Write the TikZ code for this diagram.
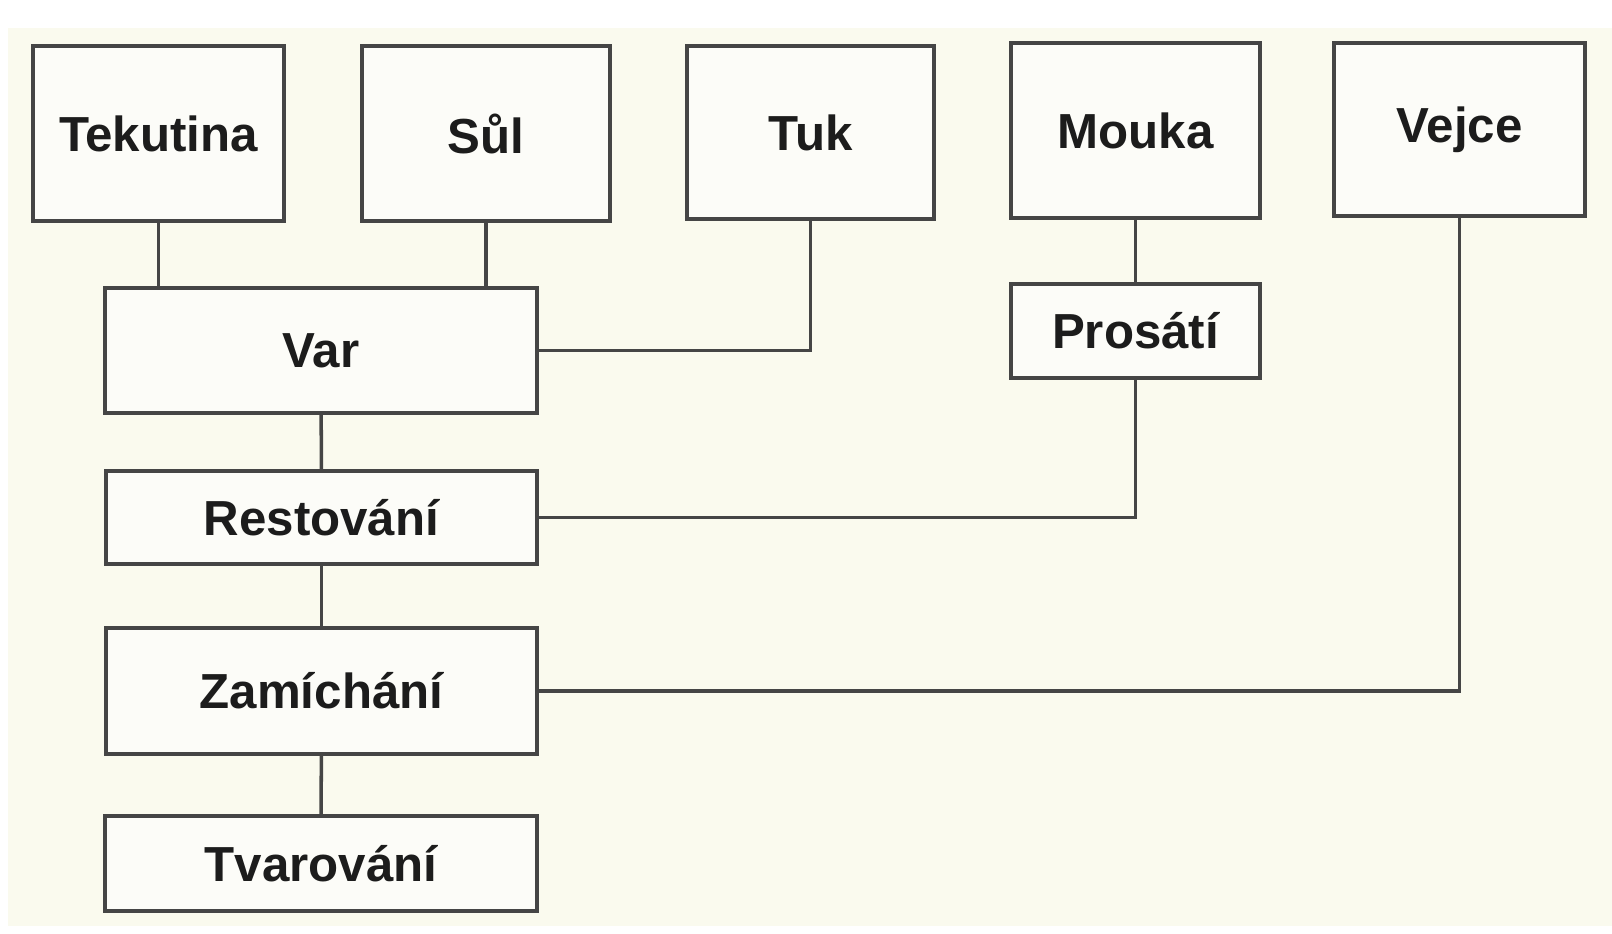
\documentclass[tikz,border=0pt]{standalone}
\usepackage{fontspec}
\setmainfont{Liberation Sans}
\usepackage{xcolor}
\usepackage{tikz}
\definecolor{paper}{HTML}{FAFAEE}
\definecolor{boxfill}{HTML}{FCFCF8}
\definecolor{boxline}{HTML}{454545}
\definecolor{ink}{HTML}{1C1C1C}

\begin{document}
\begin{tikzpicture}[x=0.01cm, y=-0.01cm,
        box/.style={rectangle, draw=boxline, line width=1.1pt, fill=boxfill, inner sep=0pt, text=ink, font=\bfseries\fontsize{14}{16}\selectfont},
        link/.style={draw=boxline, line width=1pt}]
        \useasboundingbox [fill=white] (0, 0) rectangle (1612, 933);
        \fill [paper] (8, 28) rectangle (1612, 926);
        \node (1) at (158.5, 133.5) [box, minimum width=2.51cm, minimum height=1.75cm] {Tekutina};
        \node (2) at (486, 133.5) [box, minimum width=2.48cm, minimum height=1.75cm] {Sůl};
        \node (3) at (810.5, 132.5) [box, minimum width=2.47cm, minimum height=1.73cm] {Tuk};
        \node (4) at (1135.5, 130.5) [box, minimum width=2.49cm, minimum height=1.75cm] {Mouka};
        \node (5) at (1459.5, 129.5) [box, minimum width=2.51cm, minimum height=1.73cm] {Vejce};
        \node (6) at (321, 350.5) [box, minimum width=4.32cm, minimum height=1.25cm] {Var};
        \node (7) at (1135.5, 331) [box, minimum width=2.49cm, minimum height=0.94cm] {Prosátí};
        \node (8) at (321.5, 517.5) [box, minimum width=4.31cm, minimum height=0.93cm] {Restování};
        \node (9) at (321.5, 691) [box, minimum width=4.31cm, minimum height=1.26cm] {Zamíchání};
        \node (10) at (321, 863.5) [box, minimum width=4.32cm, minimum height=0.95cm] {Tvarování};
        \draw [link] (1) -- (1 |- 6.north);
        \draw [link] (2) -- (2 |- 6.north);
        \draw [link] (3) |- (6);
        \draw [link] (4) edge (7);
        \draw [link] (7) |- (8);
        \draw [link] (5) |- (9);
        \draw [link] (6) edge (8);
        \draw [link] (8) edge (9);
        \draw [link] (9) edge (10);
    \end{tikzpicture}
\end{document}
